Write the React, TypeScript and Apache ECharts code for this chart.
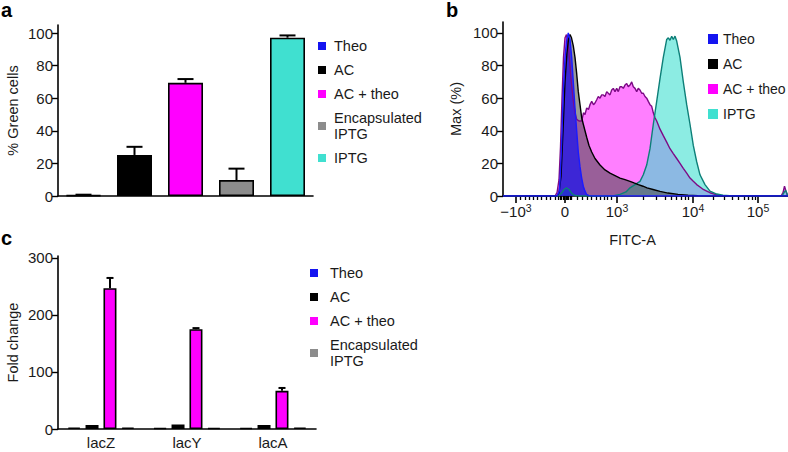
import React, { useEffect, useRef } from 'react';
import * as echarts from 'echarts';

const FONT = "'Liberation Sans', Arial, Helvetica, sans-serif";
const INK = '#1a1a1a';

// ---------- Panel a ----------
const aCategories = ['Theo', 'AC', 'AC + theo', 'Encapsulated IPTG', 'IPTG'];
const aValues = [0.5, 25.2, 69.5, 9.8, 97.2];
const aErrors = [0.3, 5, 2.3, 7, 1.4];
const aTicks = [0, 20, 40, 60, 80, 100];

// ---------- Panel b (x in display channels of a biexponential FITC-A axis, y in % of max) ----------
const bMajorTicks = [13, 62, 114, 190, 255];
const bTickBase = ['\u221210', '0', '10', '10', '10'];
const bTickExp = ['3', '', '3', '4', '5'];
const bMinorTicks = [
  17.7, 22, 26.3, 30.3, 34.3, 38.7, 43.7, 47.7, 52,
  55.5, 57, 58.5, 60, 61, 63, 64, 65.5, 67, 68.5,
  74.3, 79.7, 84.3, 88.7, 93, 97, 101, 104.3, 108.7,
  140.3, 153.7, 162, 168.7, 173.7, 178.7, 182, 185.3,
  209.9, 221.3, 229.4, 235.7, 240.9, 245.2, 249, 252.3,
];
const bYTicks = [0, 20, 40, 60, 80, 100];

const histTheo = [
  [0, 0], [54, 0], [56.3, 3], [57, 9], [58.7, 33], [60.3, 64], [62, 85], [63.5, 95], [65.3, 100],
  [67, 96], [68.7, 85], [70.3, 70], [72, 54], [73.7, 40], [75.3, 27], [77, 18], [78.7, 11],
  [80.3, 6], [82, 3], [83.5, 1], [86, 0.2], [90, 0], [285, 0],
];
const histAC = [
  [0, 0], [54, 0], [56, 2], [58, 12], [60, 40], [62, 70], [64, 88], [65.5, 96], [67, 99], [68.5, 97],
  [70.3, 92], [72, 85], [73.7, 75], [75.3, 64], [77, 56], [78.7, 48], [80.3, 44], [82, 40], [83.7, 36],
  [86, 31], [88.7, 27], [92, 23], [97, 19], [102, 16], [107, 14], [112, 12.5], [117, 11], [122, 10],
  [127, 9], [131, 8], [135.3, 7], [140, 6], [144, 5], [150, 4], [157, 2.8], [165, 1.8], [175, 1],
  [185, 0.5], [195, 0.2], [205, 0], [285, 0],
];
const histACTheo = [
  [0, 0], [52, 0], [54, 2], [56, 10], [57.5, 30], [59, 60], [60.5, 85], [62, 97], [63.5, 99], [65, 94],
  [66.5, 84], [68, 72], [70, 60], [72, 51], [73.7, 47], [76, 46], [78.7, 46], [80.5, 51], [82, 50],
  [83.7, 54], [85.5, 53], [87, 56], [88.7, 58], [90.5, 56], [92, 57], [93.7, 59], [95.3, 61], [97, 60],
  [98.7, 62], [100.3, 62], [102, 61], [103.7, 64], [105.3, 63], [107, 62], [108.7, 65], [110.3, 66],
  [112, 64], [113.7, 66], [115.3, 64], [117, 67], [118.7, 67], [120.3, 66], [122, 68], [123.7, 69],
  [125.3, 67], [127, 68], [128.7, 70], [130.3, 67], [132, 66], [133.7, 64], [135.3, 66], [137, 65],
  [138.7, 63], [140.3, 63], [142, 61], [143.7, 60], [145.3, 58], [147, 56], [148.7, 55], [150.3, 51],
  [152, 48], [153.7, 46], [157, 41], [160.3, 37], [163.7, 33], [167, 29], [170.3, 26], [173.7, 23],
  [177, 20], [180.3, 17], [183.7, 14], [187, 11], [190.3, 9], [193.7, 7], [197, 5.5], [200.3, 4],
  [203.7, 3], [207, 2], [212, 1], [218, 0.4], [226, 0], [278, 0], [280, 2], [281.5, 6], [283, 3],
  [284, 1], [285, 0],
];
const histIPTG = [
  [0, 0], [55, 0], [58, 1.5], [61, 4], [63.5, 5], [66, 4], [69, 1.5], [72, 0.3], [76, 0], [110, 0],
  [117, 1], [123, 2.5], [127, 5], [132, 7], [137, 9], [140.3, 13], [143.7, 19], [147, 29], [150.3, 44],
  [153.7, 58], [157, 72], [160.3, 85], [163.7, 96], [165.3, 97], [167, 95.5], [168.7, 98], [170.3, 96],
  [172, 98], [173.7, 95], [177, 85], [180.3, 70], [183.7, 56], [187, 44], [190.3, 31], [193.7, 21],
  [197, 13], [202, 7], [207, 3], [213.7, 1.2], [220, 0.5], [230, 0], [279, 0], [281, 2], [282.5, 3.5],
  [284, 1.5], [285, 0],
];

// ---------- Panel c ----------
const cCategories = ['lacZ', 'lacY', 'lacA'];
const cTheo = [2.5, 1.5, 2];
const cAC = [7, 8, 7];
const cACTheo = [247, 175, 67];
const cACTheoErr = [18, 2, 5];
const cEncaps = [2.5, 2, 2.5];
const cTicks = [0, 100, 200, 300];

const COLORS: Record<string, string> = {
  Theo: '#1414f0',
  AC: '#000000',
  'AC + theo': '#ff00ff',
  'Encapsulated IPTG': '#8c8c8c',
  IPTG: '#40e0d0',
};

function App() {
  const ref = useRef<HTMLDivElement>(null);
  useEffect(() => {
    if (!ref.current) return;
    const chart = echarts.init(ref.current, undefined, { renderer: 'svg' });

    const axisLine = { show: true, lineStyle: { color: '#000', width: 1.6 } };
    const yLabel = { color: INK, fontSize: 15, fontFamily: FONT, margin: 5 };
    const nameStyle = { color: INK, fontSize: 14.5, fontFamily: FONT };

    const barSeriesA = aCategories.map((name, i) => ({
      type: 'bar',
      name,
      xAxisIndex: 0,
      yAxisIndex: 0,
      stack: 'a',
      barWidth: 35,
      data: aValues.map((v, j) => (j === i ? v : '-')),
      itemStyle: { color: COLORS[name], borderColor: '#000', borderWidth: 1.6 },
    }));

    const errRender = (capW: number, slotOffset: number) => (params: any, api: any) => {
      const x = api.value(0);
      const v = api.value(1);
      const e = api.value(2);
      const slot = api.value(3);
      const off = isNaN(slot) ? 0 : (slot - 1.5) * slotOffset;
      const p0 = api.coord([x, v]);
      const p1 = api.coord([x, v + e]);
      const cx = p0[0] + off;
      return {
        type: 'group',
        children: [
          { type: 'line', shape: { x1: cx, y1: p0[1], x2: cx, y2: p1[1] }, style: { stroke: '#000', lineWidth: 2 } },
          { type: 'line', shape: { x1: cx - capW / 2, y1: p1[1], x2: cx + capW / 2, y2: p1[1] }, style: { stroke: '#000', lineWidth: 2 } },
        ],
      };
    };

    const histSeries = [
      { name: 'AC + theo', data: histACTheo, line: '#7d0a86', fill: '#ff00ff', op: 0.5 },
      { name: 'IPTG', data: histIPTG, line: '#0d7f78', fill: '#40e0d0', op: 0.6 },
      { name: 'AC', data: histAC, line: '#000000', fill: '#464646', op: 0.55 },
      { name: 'Theo', data: histTheo, line: '#1a1aff', fill: '#0000ff', op: 0.6 },
    ].map((s) => ({
      type: 'line',
      name: s.name,
      xAxisIndex: 1,
      yAxisIndex: 1,
      data: s.data,
      symbol: 'none',
      showSymbol: false,
      lineStyle: { color: s.line, width: 1.4 },
      itemStyle: { color: s.line },
      areaStyle: { color: s.fill, opacity: s.op },
    }));

    const cSeriesDefs = [
      { name: 'Theo', data: cTheo },
      { name: 'AC', data: cAC },
      { name: 'AC + theo', data: cACTheo },
      { name: 'Encapsulated IPTG', data: cEncaps },
    ];
    const barSeriesC = cSeriesDefs.map((s) => ({
      type: 'bar',
      name: s.name,
      xAxisIndex: 2,
      yAxisIndex: 2,
      barWidth: 13,
      barGap: '38%',
      data: s.data,
      itemStyle: { color: COLORS[s.name], borderColor: '#000', borderWidth: 1.6 },
    }));

    const legendText = { color: INK, fontSize: 14.5, fontFamily: FONT, lineHeight: 16 };
    const legendData = (names: string[]) =>
      names.map((n) => ({ name: n, itemStyle: { color: COLORS[n], borderWidth: 0 } }));
    const fmtName = (n: string) => (n === 'Encapsulated IPTG' ? 'Encapsulated\nIPTG' : n);

    const option: any = {
      animation: false,
      textStyle: { fontFamily: FONT },
      grid: [
        { left: 58, top: 25, width: 255, height: 171 },
        { left: 503, top: 22, width: 285, height: 174 },
        { left: 58, top: 256, width: 258, height: 173 },
      ],
      xAxis: [
        {
          type: 'category', gridIndex: 0, data: aCategories,
          axisLine, axisTick: { show: false }, axisLabel: { show: false },
        },
        {
          type: 'value', gridIndex: 1, min: 0, max: 285,
          axisLine, splitLine: { show: false },
          name: 'FITC-A', nameLocation: 'middle', nameGap: 36,
          nameTextStyle: { ...nameStyle, padding: [0, 26, 0, 0] },
          axisTick: { show: true, customValues: bMajorTicks, length: 7, lineStyle: { color: '#000', width: 1.6 } },
          axisLabel: {
            customValues: bMajorTicks,
            margin: 6,
            formatter: (v: number) => {
              const i = bMajorTicks.findIndex((t) => Math.abs(t - v) < 0.01);
              if (i < 0) return '';
              return bTickExp[i] ? `{b|${bTickBase[i]}}{s|${bTickExp[i]}}` : `{b|${bTickBase[i]}}`;
            },
            rich: {
              b: { fontSize: 15, lineHeight: 18, color: INK, fontFamily: FONT },
              s: { fontSize: 10.5, lineHeight: 11, color: INK, fontFamily: FONT, verticalAlign: 'top' },
            },
          },
        },
        {
          type: 'category', gridIndex: 2, data: cCategories,
          axisLine, axisTick: { show: false },
          axisLabel: { color: INK, fontSize: 15, fontFamily: FONT, margin: 6 },
        },
        {
          type: 'value', gridIndex: 1, min: 0, max: 285, position: 'bottom',
          axisLine: { show: false }, splitLine: { show: false }, axisLabel: { show: false },
          axisTick: { show: true, customValues: bMinorTicks, length: 4, lineStyle: { color: '#000', width: 1.3 } },
        },
      ],
      yAxis: [
        {
          type: 'value', gridIndex: 0, min: 0, max: 105,
          axisLine, splitLine: { show: false },
          axisTick: { show: true, customValues: aTicks, length: 6, lineStyle: { color: '#000', width: 1.4 } },
          axisLabel: { ...yLabel, customValues: aTicks },
          name: '% Green cells', nameLocation: 'middle', nameGap: 38, nameTextStyle: nameStyle,
        },
        {
          type: 'value', gridIndex: 1, min: 0, max: 106.7,
          axisLine, splitLine: { show: false },
          axisTick: { show: true, customValues: bYTicks, length: 6, lineStyle: { color: '#000', width: 1.4 } },
          axisLabel: { ...yLabel, customValues: bYTicks },
          name: 'Max (%)', nameLocation: 'middle', nameGap: 40, nameTextStyle: nameStyle,
        },
        {
          type: 'value', gridIndex: 2, min: 0, max: 303.5,
          axisLine, splitLine: { show: false },
          axisTick: { show: true, customValues: cTicks, length: 6, lineStyle: { color: '#000', width: 1.4 } },
          axisLabel: { ...yLabel, customValues: cTicks },
          name: 'Fold change', nameLocation: 'middle', nameGap: 38, nameTextStyle: nameStyle,
        },
      ],
      legend: [
        {
          left: 313, top: 33, orient: 'vertical', icon: 'rect', itemWidth: 8, itemHeight: 8, itemGap: 8,
          selectedMode: false, formatter: fmtName, itemStyle: { borderWidth: 0 },
          textStyle: { ...legendText, padding: [0, 0, 0, 3] },
          data: legendData(aCategories),
        },
        {
          left: 703, top: 26, orient: 'vertical', icon: 'rect', itemWidth: 10, itemHeight: 10, itemGap: 9,
          selectedMode: false, itemStyle: { borderWidth: 0 },
          textStyle: { ...legendText, fontSize: 14 },
          data: legendData(['Theo', 'AC', 'AC + theo', 'IPTG']),
        },
        {
          left: 305, top: 260, orient: 'vertical', icon: 'rect', itemWidth: 8, itemHeight: 8, itemGap: 8,
          selectedMode: false, formatter: fmtName, itemStyle: { borderWidth: 0 },
          textStyle: { ...legendText, padding: [0, 0, 0, 7] },
          data: legendData(['Theo', 'AC', 'AC + theo', 'Encapsulated IPTG']),
        },
      ],
      graphic: [
        { type: 'text', left: 1, top: 0, style: { text: 'a', font: `bold 20px ${FONT}`, fill: '#000' } },
        { type: 'text', left: 446, top: 0, style: { text: 'b', font: `bold 20px ${FONT}`, fill: '#000' } },
        { type: 'text', left: 1, top: 228, style: { text: 'c', font: `bold 20px ${FONT}`, fill: '#000' } },
      ],
      series: [
        ...barSeriesA,
        {
          type: 'custom', name: 'errA', xAxisIndex: 0, yAxisIndex: 0,
          renderItem: errRender(16, 0),
          data: aValues.map((v, i) => [i, v, aErrors[i], NaN]),
          encode: { x: 0, y: 1 }, z: 5,
        },
        ...histSeries,
        ...barSeriesC,
        {
          type: 'custom', name: 'errC', xAxisIndex: 2, yAxisIndex: 2,
          renderItem: errRender(7, 18),
          data: cACTheo.map((v, i) => [i, v, cACTheoErr[i], 2]),
          encode: { x: 0, y: 1 }, z: 5,
        },
      ],
    };
    chart.setOption(option);
    return () => chart.dispose();
  }, []);
  return <div ref={ref} style={{ position: 'fixed', left: 0, top: 0, width: 788, height: 452, background: '#fff' }} />;
}

export default App;
